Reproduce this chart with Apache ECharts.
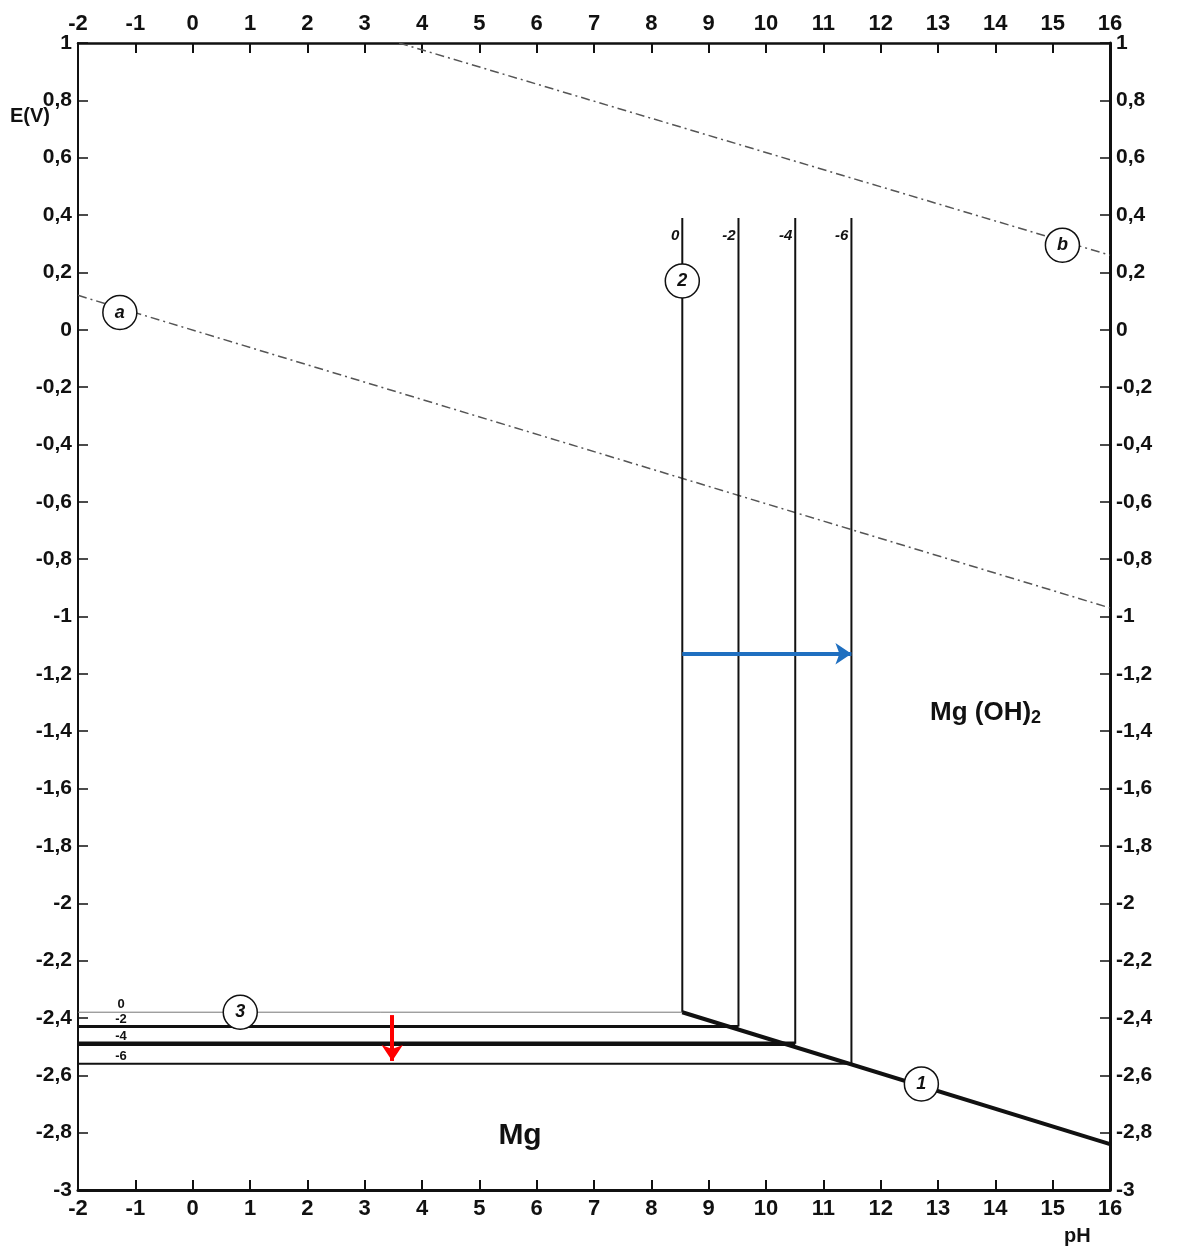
<!DOCTYPE html>
<html>
<head>
<meta charset="utf-8">
<script src="https://cdn.jsdelivr.net/npm/echarts@6/dist/echarts.min.js"></script>
<style>
  html, body { margin: 0; padding: 0; background: #fff; }
  #main { width: 1184px; height: 1253px; }
</style>
</head>
<body>
<div id="main"></div>
<script>
// axes
const phMin = -2, phMax = 16;
const eMin = -3, eMax = 1;

// water lines (a) and (b)
const lineA = [[-2, 0.12], [16, -0.97]];
const lineB = [[3.6, 1.0], [16, 0.26]];

// Mg++ / Mg(OH)2 / Mg boundaries, one per log concentration
const logC = ['0', '-2', '-4', '-6'];
const cornerPH = [8.54, 9.52, 10.51, 11.49];
const cornerE = [-2.38, -2.43, -2.49, -2.56];
const vertTop = 0.39;
const horizWidth = [1, 3, 4.5, 2];
const lineFEnd = [16, -2.84];

// circled line numbers
const circleNames = ['a', 'b', '2', '3', '1'];
const circlePos = [[-1.27, 0.06], [15.17, 0.295], [8.54, 0.17], [0.83, -2.38], [12.71, -2.63]];

// arrows
const blueArrow = [[8.54, -1.13], [11.49, -1.13]];
const redArrow = [[3.48, -2.39], [3.48, -2.55]];

const font = 'Liberation Sans';
const ink = '#111';
const chart = echarts.init(document.getElementById('main'));

const series = [];

series.push({
  type: 'line', data: lineA, symbol: 'none', silent: true,
  lineStyle: { color: '#555', width: 1.5, type: [9, 4, 2, 4] }
});
series.push({
  type: 'line', data: lineB, symbol: 'none', silent: true,
  lineStyle: { color: '#555', width: 1.5, type: [9, 4, 2, 4] }
});

// vertical lines (2)
cornerPH.forEach((p, i) => {
  series.push({
    type: 'line', symbol: 'none', silent: true,
    data: [[p, vertTop], [p, cornerE[i]]],
    lineStyle: { color: ink, width: 2 }
  });
  // horizontal lines (3)
  series.push({
    type: 'line', symbol: 'none', silent: true,
    data: [[phMin, cornerE[i]], [p, cornerE[i]]],
    lineStyle: { color: i === 0 ? '#777' : ink, width: horizWidth[i] }
  });
});

// line (1)
series.push({
  type: 'line', symbol: 'none', silent: true,
  data: [[cornerPH[0], cornerE[0]], lineFEnd],
  lineStyle: { color: ink, width: 4 }
});

// concentration labels at top of vertical lines
series.push({
  type: 'scatter', symbolSize: 0, silent: true,
  itemStyle: { opacity: 1 },
  data: cornerPH.map((p, i) => ({ value: [p, vertTop], name: logC[i] })),
  label: {
    show: true, position: 'left', distance: 3, offset: [0, 18],
    formatter: p => p.name, fontFamily: font, fontStyle: 'italic', fontWeight: 'bold', fontSize: 15, color: ink
  }
});
// concentration labels at left of horizontal lines
series.push({
  type: 'scatter', symbolSize: 0, silent: true,
  itemStyle: { opacity: 1 },
  data: cornerE.map((e, i) => ({ value: [-1.25, e], name: logC[i] })),
  label: {
    show: true, position: 'top', distance: 1,
    formatter: p => p.name, fontFamily: font, fontWeight: 'bold', fontSize: 13, color: ink
  }
});

// circled numbers
series.push({
  type: 'scatter', symbol: 'circle', symbolSize: 34, silent: true, z: 5,
  data: circlePos.map((c, i) => ({ value: c, name: circleNames[i] })),
  itemStyle: { color: '#fff', borderColor: ink, borderWidth: 1.5, opacity: 1 },
  label: {
    show: true, position: 'inside', formatter: p => p.name,
    fontFamily: font, fontStyle: 'italic', fontWeight: 'bold', fontSize: 18, color: ink
  }
});

// region labels
series.push({
  type: 'scatter', symbolSize: 0, silent: true,
  itemStyle: { opacity: 1 },
  data: [{ value: [5.71, -2.81], name: 'Mg' }],
  label: { show: true, position: 'inside', formatter: 'Mg', fontFamily: font, fontWeight: 'bold', fontSize: 30, color: ink }
});
series.push({
  type: 'scatter', symbolSize: 0, silent: true,
  itemStyle: { opacity: 1 },
  data: [{ value: [13.83, -1.335], name: 'Mg(OH)2' }],
  label: {
    show: true, position: 'inside', formatter: '{a|Mg (OH)}{b|2}',
    rich: {
      a: { fontFamily: font, fontWeight: 'bold', fontSize: 26, color: ink },
      b: { fontFamily: font, fontWeight: 'bold', fontSize: 18, color: ink, verticalAlign: 'bottom', padding: [10, 0, 0, 0] }
    }
  }
});

// arrows
series.push({
  type: 'lines', coordinateSystem: 'cartesian2d', silent: true, z: 6,
  symbol: ['none', 'arrow'], symbolSize: 16,
  data: [{ coords: blueArrow }],
  lineStyle: { color: '#1f6fc0', width: 4, opacity: 1 }
});
series.push({
  type: 'lines', coordinateSystem: 'cartesian2d', silent: true, z: 6,
  symbol: ['none', 'arrow'], symbolSize: 16,
  data: [{ coords: redArrow }],
  lineStyle: { color: '#ff0000', width: 4, opacity: 1 }
});

const fmtE = v => {
  const r = Math.round(v * 10) / 10;
  return String(r).replace('.', ',');
};

const xAxisBase = {
  type: 'value', min: phMin, max: phMax, interval: 1,
  splitLine: { show: false },
  axisTick: { inside: true, length: 10, lineStyle: { color: ink, width: 2 } },
  axisLabel: { fontFamily: font, fontWeight: 'bold', fontSize: 22, color: ink, margin: 8 }
};
const yAxisBase = {
  type: 'value', min: eMin, max: eMax, interval: 0.2,
  splitLine: { show: false },
  axisTick: { inside: true, length: 10, lineStyle: { color: ink, width: 1.5 } },
  axisLabel: { fontFamily: font, fontWeight: 'bold', fontSize: 21, color: ink, margin: 6, formatter: fmtE }
};

chart.setOption({
  animation: false,
  backgroundColor: '#fff',
  grid: { left: 78, right: 74, top: 43, bottom: 63, containLabel: false },
  xAxis: [
    Object.assign({}, xAxisBase, { position: 'bottom', axisLine: { onZero: false, lineStyle: { color: ink, width: 3 } } }),
    Object.assign({}, xAxisBase, { position: 'top', axisLine: { onZero: false, lineStyle: { color: ink, width: 2.5 } } })
  ],
  yAxis: [
    Object.assign({}, yAxisBase, { position: 'left', axisLine: { onZero: false, lineStyle: { color: ink, width: 2 } } }),
    Object.assign({}, yAxisBase, { position: 'right', axisLine: { onZero: false, lineStyle: { color: ink, width: 3 } } })
  ],
  graphic: [
    { type: 'text', left: 10, top: 106, style: { text: 'E(V)', fontFamily: font, fontWeight: 'bold', fontSize: 20, fill: ink } },
    { type: 'text', left: 1064, top: 1226, style: { text: 'pH', fontFamily: font, fontWeight: 'bold', fontSize: 20, fill: ink } }
  ],
  series: series
});
</script>
</body>
</html>
